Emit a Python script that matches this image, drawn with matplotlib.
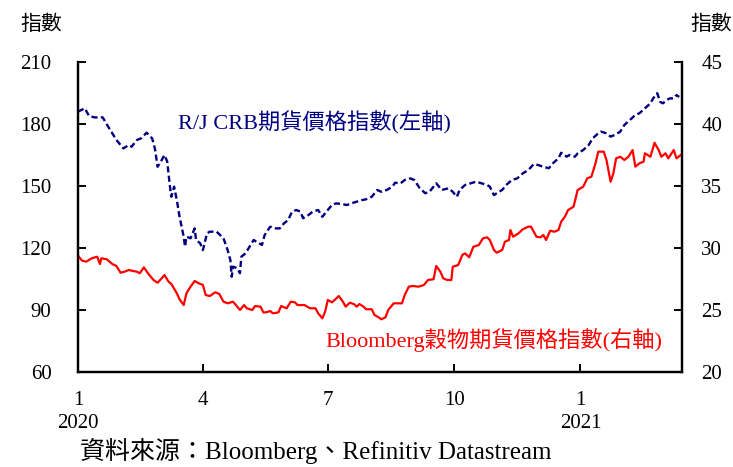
import pandas as pd
import matplotlib
matplotlib.use("Agg")
import matplotlib.pyplot as plt

# days since 2020-01-01
crb_day = [0, 5, 8, 12, 18, 22, 25, 28, 33, 37, 39, 43, 46, 50, 54, 56, 58, 61, 63, 65,
           67, 68, 70, 72, 74, 77, 78, 79, 82, 85, 86, 89, 91, 94, 96, 101, 106, 109, 111,
           112, 113, 116, 118, 119, 122, 125, 128, 130, 134, 136, 140, 144, 147, 150, 153,
           156, 159, 162, 164, 168, 171, 175, 178, 181, 185, 188, 192, 196, 199, 203, 207,
           210, 214, 218, 221, 225, 229, 231, 235, 238, 242, 245, 249, 253, 256, 261, 265,
           270, 273, 276, 278, 282, 286, 290, 294, 298, 300, 303, 305, 309, 312, 316, 320,
           324, 328, 332, 335, 339, 343, 346, 350, 352, 356, 358, 362, 364, 368, 372, 375,
           379, 381, 385, 388, 391, 395, 398, 402, 406, 409, 413, 417, 419, 422, 424, 426,
           429, 431, 434, 436, 438]
crb = [186.0, 187.6, 183.9, 183.2, 183.2, 178.7, 175.5, 172.3, 168.2, 169.8, 169.0, 172.3,
       173.1, 175.8, 173.1, 168.2, 159.3, 162.6, 165.0, 161.8, 149.7, 144.8, 149.7, 143.2,
       135.1, 125.5, 120.6, 125.5, 124.7, 129.5, 123.9, 122.3, 119.0, 127.1, 127.9, 127.9,
       124.7, 119.0, 114.2, 106.1, 111.0, 110.2, 107.8, 115.8, 117.4, 120.6, 123.9, 123.0,
       121.5, 126.3, 130.3, 129.5, 129.5, 131.9, 133.5, 137.6, 138.4, 137.6, 134.4, 136.0,
       137.6, 138.4, 135.1, 137.6, 140.8, 141.6, 141.3, 140.8, 141.6, 142.4, 143.2, 143.6,
       144.8, 148.1, 147.2, 148.1, 149.7, 151.6, 151.3, 152.9, 153.7, 152.9, 148.9, 146.5,
       147.2, 151.3, 148.1, 148.9, 147.2, 144.8, 148.1, 150.5, 151.3, 152.1, 151.3, 150.5,
       149.7, 145.6, 146.5, 148.1, 150.5, 152.9, 153.7, 156.1, 157.7, 160.6, 160.2, 159.3,
       158.6, 161.0, 163.4, 166.1, 164.2, 165.0, 164.2, 165.8, 167.4, 169.8, 173.1, 175.5,
       176.3, 175.5, 173.9, 174.7, 176.3, 179.5, 181.9, 184.4, 185.2, 187.6, 190.0, 192.4,
       194.9, 190.8, 190.0, 191.6, 192.4, 192.4, 194.0, 193.1]

grain_day = [0, 3, 6, 10, 14, 16, 17, 21, 25, 28, 31, 34, 37, 40, 43, 45, 48, 51, 55, 58,
             61, 63, 66, 68, 72, 74, 77, 79, 82, 85, 88, 91, 93, 96, 100, 103, 106, 109,
             113, 116, 118, 121, 123, 127, 129, 133, 135, 137, 140, 142, 146, 148, 152,
             155, 158, 160, 165, 169, 173, 175, 178, 180, 182, 185, 187, 190, 193, 195,
             198, 201, 203, 205, 208, 210, 214, 216, 219, 221, 224, 226, 230, 232, 236,
             238, 241, 244, 248, 252, 255, 259, 261, 264, 266, 269, 272, 273, 277, 280,
             282, 285, 288, 292, 295, 298, 300, 303, 305, 309, 311, 314, 315, 317, 321,
             324, 328, 330, 332, 334, 337, 339, 341, 344, 347, 350, 352, 355, 357, 361,
             364, 368, 371, 374, 377, 379, 383, 385, 388, 390, 392, 395, 398, 401, 404,
             406, 409, 412, 413, 417, 420, 423, 425, 428, 430, 434, 436, 440]
grain = [29.38, 28.98, 28.90, 29.17, 29.30, 28.71, 29.17, 29.09, 28.71, 28.55, 28.01, 28.09,
         28.23, 28.15, 28.09, 27.96, 28.44, 27.96, 27.42, 27.20, 27.56, 27.82, 27.28, 27.10,
         26.35, 25.86, 25.40, 26.35, 26.88, 27.34, 27.15, 27.02, 26.21, 26.13, 26.43, 26.29,
         25.67, 25.54, 25.67, 25.27, 25.00, 25.40, 25.14, 25.00, 25.32, 25.27, 24.81, 24.81,
         24.92, 24.73, 24.81, 25.32, 25.14, 25.67, 25.62, 25.40, 25.40, 25.14, 25.14, 24.73,
         24.33, 24.86, 25.81, 25.62, 25.81, 26.13, 25.67, 25.27, 25.59, 25.48, 25.27, 25.48,
         25.27, 25.06, 25.06, 24.60, 24.41, 24.25, 24.41, 25.00, 25.54, 25.54, 25.54, 26.21,
         26.88, 26.94, 26.88, 27.02, 27.42, 27.48, 28.55, 28.09, 27.56, 27.42, 27.42, 28.49,
         28.63, 29.44, 29.57, 29.25, 30.10, 30.24, 30.78, 30.86, 30.65, 29.84, 29.62, 29.84,
         30.51, 30.65, 31.45, 30.91, 31.19, 31.51, 31.72, 31.72, 31.31, 30.91, 30.86, 31.05,
         30.65, 31.40, 31.31, 31.45, 32.12, 32.58, 33.06, 33.33, 34.68, 34.94, 35.62, 35.75,
         36.83, 37.77, 37.77, 37.10, 35.35, 36.02, 37.23, 37.36, 37.10, 37.36, 37.90, 36.56,
         36.83, 36.96, 37.64, 37.36, 38.49, 37.90, 37.36, 37.64, 37.23, 37.90, 37.23, 37.58]

tick_dates = ["2020-01-01", "2020-04-01", "2020-07-01", "2020-10-01", "2021-01-01"]
tick_labels = ["1\n2020", "4", "7", "10", "1\n2021"]
left_ticks = [60, 90, 120, 150, 180, 210]
right_ticks = [20, 25, 30, 35, 40, 45]

plt.rcParams["font.family"] = ["Liberation Serif", "Noto Sans CJK TC"]

start = pd.Timestamp("2020-01-01")
crb_x = start + pd.to_timedelta(crb_day, unit="D")
grain_x = start + pd.to_timedelta(grain_day, unit="D")

fig = plt.figure(figsize=(7.33, 4.67), dpi=100)
ax = fig.add_axes([0.1064, 0.2034, 0.8240, 0.6638])
ax2 = ax.twinx()

ax.plot(crb_x, crb, color="#000080", linewidth=1.7, linestyle=(0, (2.6, 1.4)))
ax2.plot(grain_x, grain, color="#ff0000", linewidth=1.6)

ax.set_xlim(start, pd.Timestamp("2021-03-16"))
ax.set_ylim(60, 210)
ax2.set_ylim(20, 45)
ax.set_yticks(left_ticks)
ax2.set_yticks(right_ticks)
ax.set_xticks(pd.to_datetime(tick_dates))
ax.set_xticklabels(tick_labels, linespacing=1.25)

for a in (ax, ax2):
    a.spines["top"].set_visible(False)
    for s in a.spines.values():
        s.set_linewidth(1.6)
ax.tick_params(axis="both", direction="in", length=6, width=1.4, labelsize=15)
ax.tick_params(axis="y", pad=19)
ax.tick_params(axis="x", pad=14)
ax2.tick_params(axis="y", direction="in", length=6, width=1.4, labelsize=15, pad=14)

ax.text(0.166, 0.806, "R/J CRB期貨價格指數(左軸)", transform=ax.transAxes,
        color="#000080", fontsize=16, va="center", ha="left")
ax.text(0.409, 0.103, "Bloomberg穀物期貨價格指數(右軸)", transform=ax.transAxes,
        color="#ff0000", fontsize=16, va="center", ha="left")

fig.text(0.056, 0.946, "指數", fontsize=15, ha="center", va="center")
fig.text(0.970, 0.946, "指數", fontsize=15, ha="center", va="center")
fig.text(0.109, 0.034, "資料來源：Bloomberg、Refinitiv Datastream", fontsize=18,
         ha="left", va="center")

fig.savefig("out.png", dpi=100)
